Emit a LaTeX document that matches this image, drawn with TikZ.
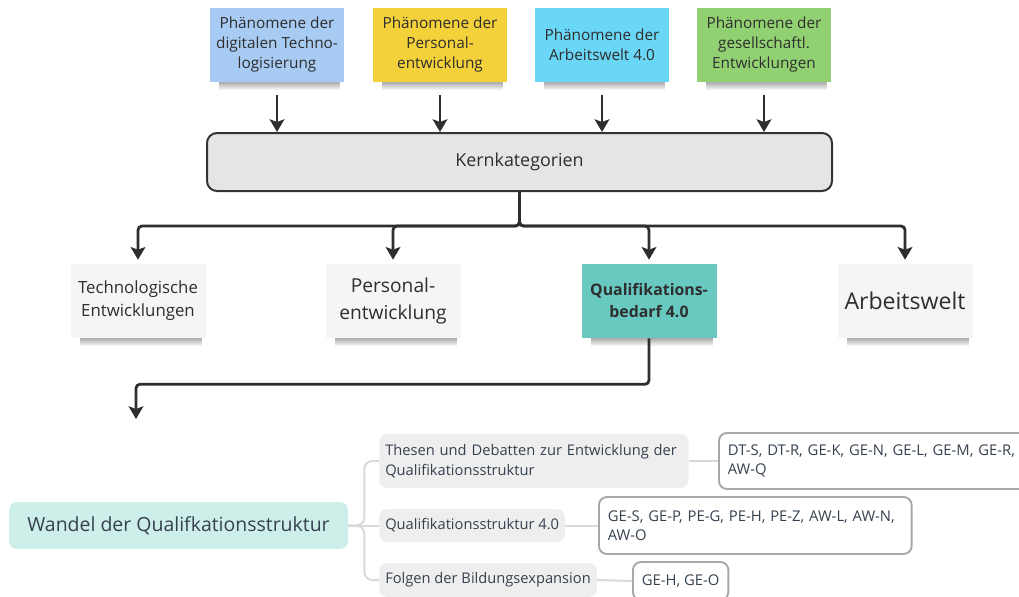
\documentclass[tikz,border=0pt]{standalone}
\usepackage{fontspec}
\setmainfont{Open Sans}
\usetikzlibrary{arrows.meta,fadings}

\definecolor{txt}{HTML}{2E2E2E}
\definecolor{mmtext}{HTML}{36414F}
\definecolor{noteblue}{HTML}{A8CBF3}
\definecolor{noteyellow}{HTML}{F4D03A}
\definecolor{notecyan}{HTML}{6BD7F7}
\definecolor{notegreen}{HTML}{92D172}
\definecolor{paper}{HTML}{F4F5F7}
\definecolor{teal}{HTML}{68C9C1}
\definecolor{kernfill}{HTML}{E5E5E5}
\definecolor{kernline}{HTML}{333333}
\definecolor{rootfill}{HTML}{CDEEE9}
\definecolor{branchfill}{HTML}{EEEEEE}
\definecolor{leafline}{HTML}{A8A8A8}
\definecolor{linkgray}{HTML}{D9D9D9}

\tikzfading[name=shadefade, top color=transparent!10, bottom color=transparent!100]

\begin{document}
\begin{tikzpicture}[x=0.75pt,y=-0.75pt,
  topnote/.style={minimum width=100.5pt, minimum height=55.5pt, inner sep=0pt,
    align=center, text=txt, font=\fontsize{11.5}{15}\selectfont},
  midnote/.style={minimum width=101.25pt, minimum height=55.5pt, inner sep=0pt,
    align=center, text=txt, fill=paper},
  kernbox/.style={draw=kernline, fill=kernfill, line width=1.5pt, rounded corners=7.5pt,
    minimum width=468.75pt, minimum height=43.5pt, text=txt,
    font=\fontsize{13.4}{15}\selectfont},
  arr/.style={draw=txt, line width=2.1pt, rounded corners=3pt,
    -{Stealth[length=9.5pt, width=11pt, inset=2pt]}},
  rootbox/.style={fill=rootfill, rounded corners=6pt, minimum width=254.25pt,
    minimum height=35.25pt, text=mmtext, font=\fontsize{14.6}{17}\selectfont},
  branchbox/.style={fill=branchfill, rounded corners=6pt, anchor=west, align=left,
    inner xsep=4.5pt, inner ysep=0pt, text=mmtext, font=\fontsize{11}{15}\selectfont},
  leafbox/.style={draw=leafline, fill=white, line width=1.4pt, rounded corners=6pt,
    anchor=west, align=left, inner xsep=6.75pt, inner ysep=0pt, text=mmtext,
    font=\fontsize{11.1}{14.25}\selectfont},
  link/.style={draw=linkgray, line width=1.5pt, rounded corners=6pt},
  noteshadow/.style={fill=black!65, opacity=0.55, path fading=shadefade},
]
\useasboundingbox (0,0) rectangle (1019,596);
\clip (0,0) rectangle (1019,596);

% phenomenon notes
\node[topnote, fill=noteblue]   (p1) at (277,45) {Phänomene der\\digitalen Techno-\\logisierung};
\node[topnote, fill=noteyellow] (p2) at (440,45) {Phänomene der\\Personal-\\entwicklung};
\node[topnote, fill=notecyan]   (p3) at (602,45) {Phänomene der\\Arbeitswelt 4.0};
\node[topnote, fill=notegreen]  (p4) at (764,45) {Phänomene der\\gesellschaftl.\\Entwicklungen};

% core categories
\node[kernbox] (k) at (519.5,162) {Kernkategorien};

\foreach \n in {p1,p2,p3,p4}{
  \fill[noteshadow]
    ([xshift=7pt]\n.south west) rectangle ([xshift=-3pt,yshift=-6pt]\n.south east);
  \draw[arr] ([yshift=-9.5pt]\n.south) -- (\n.south |- k.north);
}

% category notes
\node[midnote, font=\fontsize{12.6}{17.25}\selectfont] (t1) at (138,301) {Technologische\\Entwicklungen};
\node[midnote, font=\fontsize{14.4}{20.25}\selectfont] (t2) at (393,301) {Personal-\\entwicklung};
\node[midnote, fill=teal, font=\fontsize{11.9}{16.5}\selectfont\bfseries] (t3) at (649,301) {Qualifikations-\\bedarf 4.0};
\node[midnote, font=\fontsize{17.3}{20}\selectfont] (t4) at (905,301) {Arbeitswelt};

\foreach \n in {t1,t2,t3,t4}{
  \fill[noteshadow]
    ([xshift=7pt]\n.south west) rectangle ([xshift=-3pt,yshift=-6pt]\n.south east);
  \draw[arr] (k.south) -- ++(0,34) -| ([yshift=3pt]\n.north);
}

% link to the mind map
\coordinate (drop) at (136,419);
\draw[arr] (t3.south) -- ++(0,46) -| (drop);

% mind map
\node[rootbox] (root) at (178.5,525.5) {Wandel der Qualifkationsstruktur};

\node[branchbox, minimum height=40.5pt, text width=223pt] (b1) at (379,461)
  {\mbox{Thesen und Debatten zur Entwicklung der}\\Qualifikationsstruktur};
\node[branchbox, minimum height=24.75pt] (b2) at (379,525.5) {Qualifikationsstruktur 4.0};
\node[branchbox, minimum height=25.5pt] (b3) at (379,580) {Folgen der Bildungsexpansion};

\node[leafbox, minimum height=42pt, text width=232pt] (l1) at (718,461)
  {\mbox{DT-S, DT-R, GE-K, GE-N, GE-L, GE-M, GE-R,}\\AW-Q};
\node[leafbox, minimum height=42.75pt, text width=221pt] (l2) at (598,525.5)
  {\mbox{GE-S, GE-P, PE-G, PE-H, PE-Z, AW-L, AW-N,}\\AW-O};
\node[leafbox, minimum height=28.5pt] (l3) at (632,581) {GE-H, GE-O};

\draw[link] (root.east) -- (b2.west);
\draw[link] (root.east) -- ++(16,0) |- (b1.west);
\draw[link] (root.east) -- ++(16,0) |- (b3.west);
\draw[link] (b1.east) -- (l1.west);
\draw[link] (b2.east) -- (l2.west);
\draw[link] (b3.east) -- (l3.west);
\end{tikzpicture}
\end{document}
